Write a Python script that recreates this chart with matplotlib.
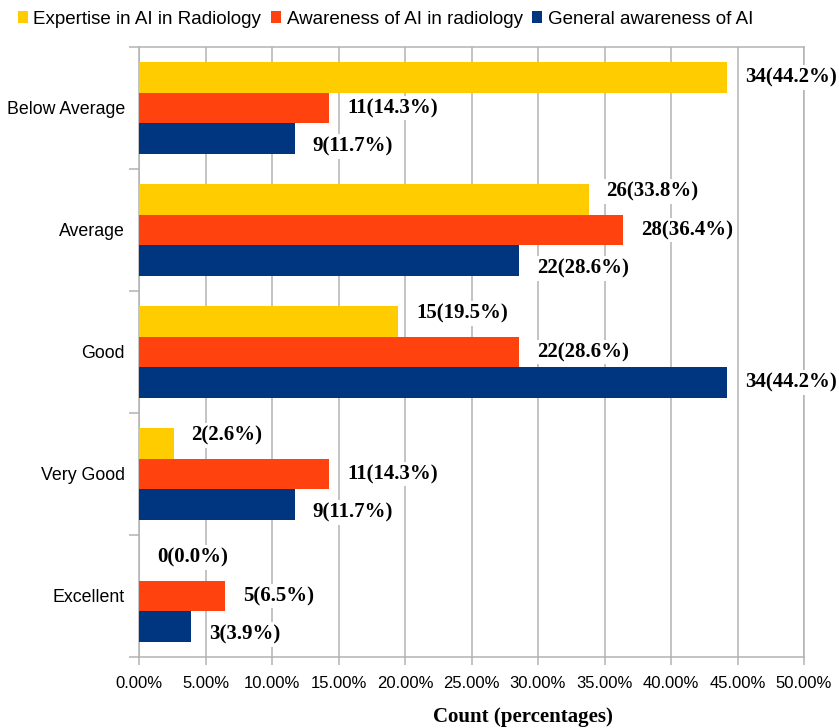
import matplotlib
matplotlib.use("Agg")
import matplotlib.pyplot as plt
import numpy as np

categories = ["Below Average", "Average", "Good", "Very Good", "Excellent"]
series_names = ["Expertise in AI in Radiology", "Awareness of AI in radiology", "General awareness of AI"]
expertise_counts = [34, 26, 15, 2, 0]
expertise_pct = [44.2, 33.8, 19.5, 2.6, 0.0]
awareness_rad_counts = [11, 28, 22, 11, 5]
awareness_rad_pct = [14.3, 36.4, 28.6, 14.3, 6.5]
general_counts = [9, 22, 34, 9, 3]
general_pct = [11.7, 28.6, 44.2, 11.7, 3.9]
x_ticks = [0, 5, 10, 15, 20, 25, 30, 35, 40, 45, 50]
x_tick_labels = ["0.00%", "5.00%", "10.00%", "15.00%", "20.00%", "25.00%",
                 "30.00%", "35.00%", "40.00%", "45.00%", "50.00%"]

colors = ["#FFCC00", "#FF420E", "#00367F"]
grid_c = "#b3b3b3"

sans = ["Liberation Sans", "DejaVu Sans"]
serif = ["Liberation Serif", "DejaVu Serif"]

fig = plt.figure(figsize=(8.39, 7.28), dpi=100)
ax = fig.add_axes([139/839, 1-657/728, (804-139)/839, (657-47)/728])

y = np.arange(len(categories))
h = 0.25
all_pct = [expertise_pct, awareness_rad_pct, general_pct]
all_cnt = [expertise_counts, awareness_rad_counts, general_counts]
offsets = [-h, 0, h]
label_shift = [8, 0, -8]  # pixels: yellow labels nudged up, navy down
for i in range(3):
    ax.barh(y + offsets[i], all_pct[i], height=h, color=colors[i],
            label=series_names[i], zorder=3)
    for yy, p, c in zip(y + offsets[i], all_pct[i], all_cnt[i]):
        dy = 0 if p > 40 else label_shift[i]
        ax.annotate(f"{c}({p:.1f}%)", xy=(p, yy), xytext=(18, dy),
                    textcoords="offset pixels", va="center", ha="left",
                    fontsize=15, fontweight="bold", family=serif,
                    bbox=dict(boxstyle="square,pad=0.1", fc="white", ec="none"),
                    zorder=4, annotation_clip=False)

ax.set_xlim(0, 50)
ax.set_ylim(len(categories) - 0.5, -0.5)
ax.set_xticks(x_ticks)
ax.set_xticklabels(x_tick_labels, family=sans, fontsize=12)
ax.set_yticks(y)
ax.set_yticklabels(categories, family=sans, fontsize=12.8)
ax.set_yticks(np.arange(-0.5, len(categories), 1.0), minor=True)
ax.tick_params(axis="y", which="major", length=0, pad=10)
ax.tick_params(axis="y", which="minor", length=7, color=grid_c, width=1.1)
ax.tick_params(axis="x", which="major", length=6, color=grid_c, width=1.1, pad=8)
ax.xaxis.grid(True, color=grid_c, linewidth=1.1, zorder=0)
ax.set_axisbelow(True)
for s in ax.spines.values():
    s.set_color(grid_c)
    s.set_linewidth(1.1)

fig.text(523/839, 1-717/728, "Count (percentages)", ha="center", va="center",
         fontsize=15, fontweight="bold", family=serif)

fig.legend(loc="upper left", bbox_to_anchor=(10/839, 1-3/728), ncol=3,
           frameon=False, prop=dict(family=sans, size=13.5),
           handlelength=0.55, handleheight=0.55, handletextpad=0.3,
           columnspacing=0.5, borderaxespad=0)

fig.savefig("out.png", dpi=100)
